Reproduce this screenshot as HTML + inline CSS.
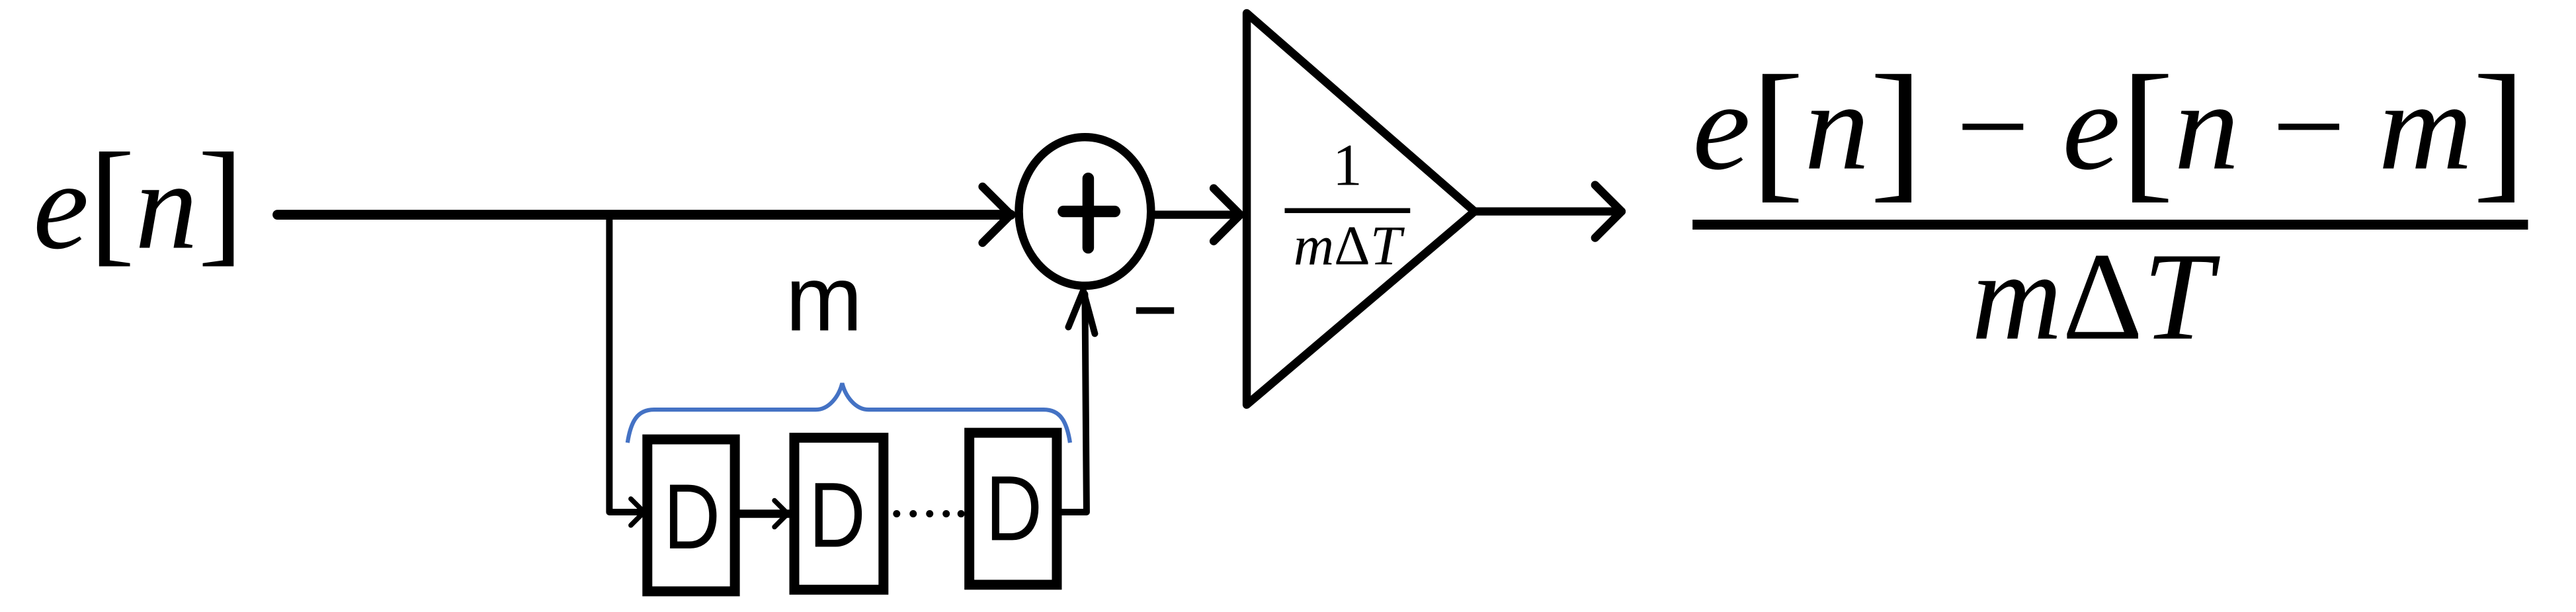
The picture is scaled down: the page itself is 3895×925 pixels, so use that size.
<!DOCTYPE html>
<html><head><meta charset="utf-8"><style>
html,body{margin:0;padding:0;background:#fff;}
svg{display:block;}
.m{font-family:"Liberation Serif",serif;font-style:italic;}
.r{font-family:"Liberation Serif",serif;}
.s{font-family:"Liberation Sans",sans-serif;}
</style></head><body>
<svg width="3895" height="925" viewBox="0 0 1560 370.5" xmlns="http://www.w3.org/2000/svg">
<g fill="none" stroke="#000" stroke-width="5" stroke-linecap="round" stroke-linejoin="round">
<line x1="168" y1="130" x2="612" y2="130" stroke-width="6"/>
<polyline points="595,113 612,130 595,147"/>
<polyline points="369,130 369,310 390,310" stroke-width="4"/>
<polyline points="382,302 390,310 382,318" stroke-width="3"/>
<ellipse cx="657" cy="128" rx="40" ry="45"/>
<line x1="659" y1="108" x2="659" y2="150" stroke-width="7"/>
<line x1="644" y1="128" x2="675" y2="128" stroke-width="7"/>
<line x1="698" y1="130" x2="751" y2="130"/>
<polyline points="735,114 751,130 735,146"/>
<polygon points="755,8 755,245 893,128"/>
<line x1="893" y1="128" x2="982" y2="128"/>
<polyline points="966,112 982,128 966,144"/>
<line x1="447" y1="311" x2="478" y2="311"/>
<polyline points="469,303 477,311 469,319" stroke-width="3"/>
<polyline points="642,310 658,310 657,178" stroke-width="4"/>
<polyline points="647,198 656,176 663,202" stroke-width="4"/>
</g>
<g fill="none" stroke="#000" stroke-width="6">
<rect x="392" y="266" width="53" height="92"/>
<rect x="481" y="265" width="54" height="92"/>
<rect x="587" y="262" width="53" height="92"/>
</g>
<g fill="#000">
<circle cx="543" cy="311" r="2.2"/><circle cx="553" cy="311" r="2.2"/><circle cx="563" cy="311" r="2.2"/><circle cx="573" cy="311" r="2.2"/><circle cx="582" cy="311" r="2.2"/>
</g>
<path d="M380,268 C382,255 386,248 396,248 L494,248 C502,248 508,240 510,232 C512,240 518,248 526,248 L632,248 C642,248 646,255 648,268" fill="none" stroke="#4472C4" stroke-width="2.5"/>
<g class="s" font-size="56" text-anchor="middle" fill="#000">
<text x="419" y="332" transform="translate(419 0) scale(0.85 1) translate(-419 0)">D</text>
<text x="507" y="331" transform="translate(507 0) scale(0.85 1) translate(-507 0)">D</text>
<text x="614" y="327" transform="translate(614 0) scale(0.85 1) translate(-614 0)">D</text>
<text x="499" y="200">m</text>
</g>
<rect x="688" y="186" width="23" height="4" fill="#000"/>
<text x="20" y="150" class="m" font-size="76">e<tspan class="r" font-style="normal" font-size="84">[</tspan>n<tspan class="r" font-style="normal" font-size="84">]</tspan></text>
<text x="816" y="112" class="r" font-size="36" text-anchor="middle">1</text>
<rect x="778" y="126" width="76" height="3" fill="#000"/>
<text x="816" y="160" class="m" font-size="34" text-anchor="middle">m<tspan class="r" font-style="normal">Δ</tspan>T</text>
<text x="1025" y="102" class="m" font-size="76" textLength="505" lengthAdjust="spacingAndGlyphs">e<tspan class="r" font-style="normal" font-size="94" dy="8">[</tspan><tspan dy="-8">n</tspan><tspan class="r" font-style="normal" font-size="94" dy="8">]</tspan><tspan class="r" font-style="normal" dy="-8"> − </tspan>e<tspan class="r" font-style="normal" font-size="94" dy="8">[</tspan><tspan dy="-8">n</tspan><tspan class="r" font-style="normal"> − </tspan>m<tspan class="r" font-style="normal" font-size="94" dy="8">]</tspan></text>
<rect x="1025" y="133" width="506" height="6" fill="#000"/>
<text x="1267" y="205" class="m" font-size="76" text-anchor="middle">m<tspan class="r" font-style="normal">Δ</tspan>T</text>
</svg>
</body></html>
